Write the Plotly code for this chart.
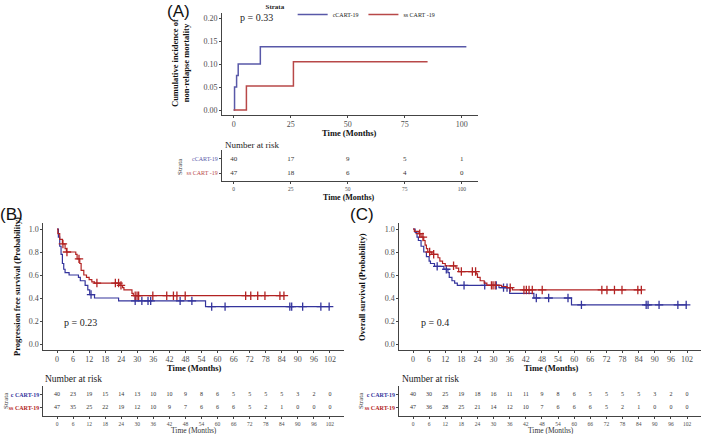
import plotly.graph_objects as go

# ---- data ----
# (A) cumulative incidence of non-relapse mortality
a_c_t = [0, 0.4, 1.3, 2.0, 11.7, 102]
a_c_y = [0, 0.05, 0.075, 0.10, 0.1375, 0.1375]
a_s_t = [0, 5.6, 26.2, 85]
a_s_y = [0, 0.052, 0.105, 0.105]
a_risk_t = [0, 25, 50, 75, 100]
a_risk_c = [40, 17, 9, 5, 1]
a_risk_s = [47, 18, 6, 4, 0]

# (B) progression free survival
b_c_t = [0, 0.5, 1, 1.5, 2, 2.5, 3, 4.5, 8, 8.7, 10.5, 11.5, 12.2, 14, 23, 55.5, 102]
b_c_s = [1.0, 0.93, 0.85, 0.78, 0.70, 0.65, 0.62, 0.60, 0.58, 0.55, 0.51, 0.47, 0.43, 0.40, 0.375, 0.325, 0.325]
b_c_cens = [12.7, 29.2, 31.7, 34, 35, 46, 50.4, 57.8, 62.8, 87, 87.7, 91.8, 98.6, 101.7]
b_s_t = [0, 0.3, 1, 2, 3, 3.5, 7, 7.5, 8.5, 9, 10, 11, 12, 13, 14, 23.5, 24.5, 25, 28, 28.5, 85]
b_s_s = [1.0, 0.96, 0.91, 0.87, 0.83, 0.80, 0.78, 0.74, 0.70, 0.64, 0.60, 0.58, 0.56, 0.54, 0.53, 0.51, 0.49, 0.47, 0.44, 0.42, 0.42]
b_s_cens = [2.2, 3.7, 8.2, 14.9, 21.8, 23, 23.9, 29.2, 29.9, 30.5, 35.8, 41, 43.5, 44.8, 47.9,
            70.5, 72.4, 75, 77.7, 83.3, 84.8]

# (C) overall survival
c_c_t = [0, 0.8, 1.5, 2, 3, 4, 5, 6, 6.5, 8, 11.5, 13, 13.5, 14.5, 15.5, 16.5, 32, 36, 45, 59, 102]
c_c_s = [1.0, 0.97, 0.93, 0.90, 0.85, 0.80, 0.76, 0.72, 0.70, 0.675, 0.65, 0.62, 0.58, 0.55, 0.53, 0.51,
         0.49, 0.44, 0.40, 0.34, 0.34]
c_c_cens = [9, 12.4, 19, 26.7, 31, 33.7, 35, 45.9, 50.5, 57.7, 62.7, 86.8, 87.5, 91.6, 98.6, 101.7]
c_s_t = [0, 0.5, 2.2, 3, 4, 4.5, 5, 5.5, 7, 9.3, 10, 11, 12, 16, 17, 23.5, 24, 25, 26.5, 27.5, 33, 35, 37, 85]
c_s_s = [1.0, 0.98, 0.96, 0.93, 0.90, 0.86, 0.83, 0.80, 0.78, 0.75, 0.72, 0.70, 0.68, 0.66, 0.63, 0.61,
         0.58, 0.55, 0.53, 0.51, 0.50, 0.49, 0.47, 0.47]
c_s_cens = [2.5, 3.7, 6.2, 7.7, 15.1, 18, 22.1, 23.3, 29.2, 29.8, 30.6, 36.2, 41.3, 42.2, 43.2, 44.4,
            48.1, 70.3, 72.2, 75, 77.8, 83.7, 85]

risk_t = [0, 6, 12, 18, 24, 30, 36, 42, 48, 54, 60, 66, 72, 78, 84, 90, 96, 102]
b_risk_c = [40, 23, 19, 15, 14, 13, 10, 10, 9, 8, 6, 5, 5, 5, 5, 3, 2, 0]
b_risk_s = [47, 35, 25, 22, 19, 12, 10, 9, 7, 6, 6, 6, 5, 2, 1, 0, 0, 0]
c_risk_c = [40, 30, 25, 19, 18, 16, 11, 11, 9, 8, 6, 5, 5, 5, 5, 3, 2, 0]
c_risk_s = [47, 36, 28, 25, 21, 14, 12, 10, 7, 6, 6, 6, 5, 2, 1, 0, 0, 0]

BLUE_A, RED_A = '#5858A8', '#B84848'
BLUE, RED = '#34349C', '#B22222'
SERIF = 'Liberation Serif'
GREY = '#4D4D4D'
W, H = 702, 434


def px(x):
    return x / W


def py(y):
    return 1 - y / H


def step_at(ts, ss, t):
    v = ss[0]
    for ti, si in zip(ts, ss):
        if ti <= t:
            v = si
    return v


fig = go.Figure()

# ---- panel A ----
fig.add_trace(go.Scatter(x=a_c_t, y=a_c_y, mode='lines', line=dict(color=BLUE_A, width=1.5, shape='hv'),
                         name='cCART-19', xaxis='x', yaxis='y'))
fig.add_trace(go.Scatter(x=a_s_t, y=a_s_y, mode='lines', line=dict(color=RED_A, width=1.5, shape='hv'),
                         name='ss CART -19', xaxis='x', yaxis='y'))
for vals, row in [(a_risk_c, 1), (a_risk_s, 0)]:
    fig.add_trace(go.Scatter(x=a_risk_t, y=[row] * len(vals), text=[str(v) for v in vals], mode='text',
                             textfont=dict(size=7, color='#333', family=SERIF), showlegend=False,
                             xaxis='x2', yaxis='y2', cliponaxis=False))


def km(xa, ya, ts, ss, cens, color):
    fig.add_trace(go.Scatter(x=ts, y=ss, mode='lines', line=dict(color=color, width=1.2, shape='hv'),
                             showlegend=False, xaxis=xa, yaxis=ya))
    fig.add_trace(go.Scatter(x=cens, y=[step_at(ts, ss, c) for c in cens], mode='markers',
                             marker=dict(symbol='cross-thin', size=6, line=dict(color=color, width=1.3)),
                             showlegend=False, xaxis=xa, yaxis=ya))


def risk(xa, ya, c_vals, s_vals):
    for vals, row in [(c_vals, 1), (s_vals, 0)]:
        fig.add_trace(go.Scatter(x=risk_t, y=[row] * len(vals), text=[str(v) for v in vals], mode='text',
                                 textfont=dict(size=6, color='#333', family=SERIF), showlegend=False,
                                 xaxis=xa, yaxis=ya, cliponaxis=False))


km('x3', 'y3', b_c_t, b_c_s, b_c_cens, BLUE)
km('x3', 'y3', b_s_t, b_s_s, b_s_cens, RED)
risk('x4', 'y4', b_risk_c, b_risk_s)
km('x5', 'y5', c_c_t, c_c_s, c_c_cens, BLUE)
km('x5', 'y5', c_s_t, c_s_s, c_s_cens, RED)
risk('x6', 'y6', c_risk_c, c_risk_s)

ax = dict(showline=True, linecolor='#444', linewidth=1, ticks='outside', ticklen=2, tickcolor='#444',
          showgrid=False, zeroline=False, automargin=False,
          tickfont=dict(family=SERIF, size=8, color=GREY))
xr = [-5.1, 107.1]

fig.update_layout(
    width=W, height=H, autosize=False, margin=dict(l=0, r=0, t=0, b=0),
    paper_bgcolor='white', plot_bgcolor='white',
    xaxis=dict(ax, domain=[px(222), px(478)], range=xr, tickvals=[0, 25, 50, 75, 100], anchor='y'),
    yaxis=dict(ax, domain=[py(114.6), py(13.4)], range=[-0.01, 0.21], tickvals=[0, 0.05, 0.1, 0.15, 0.2],
               tickformat='.2f', anchor='x'),
    xaxis2=dict(ax, domain=[px(222), px(478)], range=xr, tickvals=a_risk_t, anchor='y2',
                tickfont=dict(family=SERIF, size=5.5, color=GREY)),
    yaxis2=dict(ax, domain=[py(181), py(150)], range=[-0.57, 1.64], tickvals=[0, 1], anchor='x2',
                ticktext=[f'<span style="color:{RED_A}">ss CART -19</span>',
                          f'<span style="color:{BLUE_A}">cCART-19</span>'],
                tickfont=dict(family=SERIF, size=6)),
    xaxis3=dict(ax, domain=[px(43.4), px(343.6)], range=xr, tickvals=risk_t, anchor='y3'),
    yaxis3=dict(ax, domain=[py(349.75), py(223.25)], range=[-0.05, 1.05], tickvals=[0, 0.2, 0.4, 0.6, 0.8, 1.0],
                tickformat='.1f', anchor='x3'),
    xaxis4=dict(ax, domain=[px(43.4), px(343.6)], range=xr, tickvals=risk_t, anchor='y4',
                tickfont=dict(family=SERIF, size=5.5, color=GREY)),
    yaxis4=dict(ax, domain=[py(416), py(386)], range=[-0.62, 1.69], tickvals=[0, 1], anchor='x4',
                ticktext=[f'<span style="color:{RED}"><b>ss CART-19</b></span>',
                          f'<span style="color:{BLUE}"><b>c CART-19</b></span>'],
                tickfont=dict(family=SERIF, size=6)),
    xaxis5=dict(ax, domain=[px(399.3), px(700.7)], range=xr, tickvals=risk_t, anchor='y5'),
    yaxis5=dict(ax, domain=[py(349.75), py(223.25)], range=[-0.05, 1.05], tickvals=[0, 0.2, 0.4, 0.6, 0.8, 1.0],
                tickformat='.1f', anchor='x5'),
    xaxis6=dict(ax, domain=[px(399.3), px(700.7)], range=xr, tickvals=risk_t, anchor='y6',
                tickfont=dict(family=SERIF, size=5.5, color=GREY)),
    yaxis6=dict(ax, domain=[py(416), py(386)], range=[-0.62, 1.69], tickvals=[0, 1], anchor='x6',
                ticktext=[f'<span style="color:{RED}"><b>ss CART-19</b></span>',
                          f'<span style="color:{BLUE}"><b>c CART-19</b></span>'],
                tickfont=dict(family=SERIF, size=6)),
    legend=dict(orientation='h', x=px(352), xanchor='center', y=1.0, yanchor='top',
                title=dict(text='<b>Strata</b>', side='left', font=dict(family=SERIF, size=7, color='#222')),
                font=dict(family=SERIF, size=6, color='#222'), itemwidth=30, bgcolor='rgba(0,0,0,0)',
                tracegroupgap=0),
)


def note(x, y, text, size=9, angle=0, family=SERIF, anchor='center', color='#111'):
    fig.add_annotation(x=px(x), y=py(y), xref='paper', yref='paper', text=text, showarrow=False,
                       textangle=angle, xanchor=anchor, yanchor='middle',
                       font=dict(family=family, size=size, color=color))


note(178, 12, '(A)', size=17, family='Liberation Sans')
note(11, 214, '(B)', size=17, family='Liberation Sans')
note(362, 214, '(C)', size=17, family='Liberation Sans')

note(238, 17, 'p = 0.33', size=10, anchor='left', color='#222')
note(62, 322, 'p = 0.23', size=10, anchor='left', color='#222')
note(419, 322, 'p = 0.4', size=10, anchor='left', color='#222')

note(181, 63, '<b>Cumulative incidence of<br>non-relapse mortality</b>', size=8.5, angle=-90)
note(349, 133.5, '<b>Time (Months)</b>', size=8.5)
note(223, 145, 'Number at risk', size=9, anchor='left', color='#222')
note(180, 166, 'Strata', size=7, angle=-90, color='#333')
note(349, 197, '<b>Time (Months)</b>', size=8)

note(17, 287, '<b>Progression free survival (Probability)</b>', size=8.5, angle=-90)
note(194, 368, '<b>Time (Months)</b>', size=8.5)
note(43, 379, 'Number at risk', size=9.5, anchor='left', color='#222')
note(6, 401, 'Strata', size=7, angle=-90, color='#333')
note(194, 430, 'Time (Months)', size=7.5, color='#333')

note(362, 287, '<b>Overall survival (Probability)</b>', size=8.5, angle=-90)
note(551, 368, '<b>Time (Months)</b>', size=8.5)
note(400, 379, 'Number at risk', size=9.5, anchor='left', color='#222')
note(361, 401, 'Strata', size=7, angle=-90, color='#333')
note(551, 430, 'Time (Months)', size=7.5, color='#333')

# the page body keeps an 8px default margin; drop it so the figure sits at the window corner
fig.write_html("out.html", config={'displayModeBar': False},
               post_script="document.body.style.margin='0';document.body.style.overflow='hidden';")
